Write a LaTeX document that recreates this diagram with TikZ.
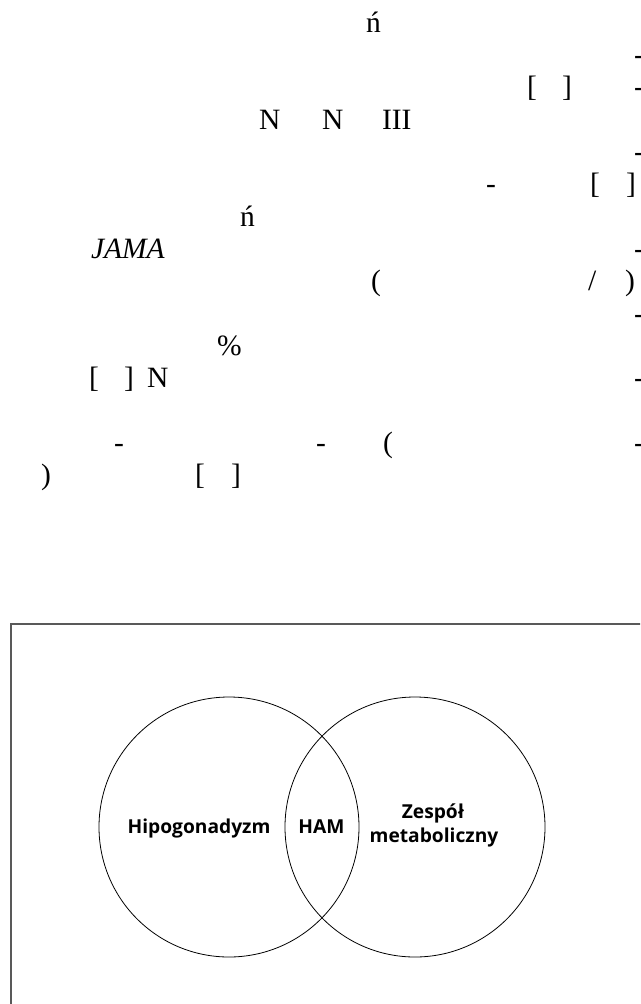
\documentclass[tikz,border=0pt]{standalone}
\usepackage{fontspec}
\setmainfont{Liberation Serif}
\newfontfamily\labfont{Open Sans}
\begin{document}
\begin{tikzpicture}[x=1pt,y=-1pt,
  glyph/.style={anchor=base west,inner sep=0pt,outer sep=0pt,font=\fontsize{29.5}{32}\selectfont},
  lab/.style={anchor=base,inner sep=0pt,outer sep=0pt,font=\labfont\bfseries\fontsize{19.2}{23}\selectfont},
  venn/.style={draw=black,line width=0.8pt},
  frame/.style={draw=black!65,line width=1.3pt}]
\useasboundingbox (0,0) rectangle (640,1004);
\clip (0,0) rectangle (640,1004);
% scattered text glyphs
\node[glyph] (a1) at (366,32) {ń};
\node[glyph] (b1) at (634,64) {-};
\node[glyph] (c1) at (527,96) {[};
\node[glyph] (c2) at (562,96) {]};
\node[glyph] (c3) at (634,96) {-};
\node[glyph] (d1) at (259,129) {N};
\node[glyph] (d2) at (322,129) {N};
\node[glyph] (d3) at (382,129) {III};
\node[glyph] (e1) at (634,161) {-};
\node[glyph] (f1) at (486,193) {-};
\node[glyph] (f2) at (590,193) {[};
\node[glyph] (f3) at (626,193) {]};
\node[glyph] (g1) at (240,226) {ń};
\node[glyph] (h1) at (91,258) {\itshape JAMA};
\node[glyph] (h2) at (634,258) {-};
\node[glyph] (i1) at (371,290) {(};
\node[glyph] (i2) at (588,290) {/};
\node[glyph] (i3) at (625,290) {)};
\node[glyph] (j1) at (634,323) {-};
\node[glyph] (k1) at (217,355) {\%};
\node[glyph] (l1) at (89,387) {[};
\node[glyph] (l2) at (124,387) {]};
\node[glyph] (l3) at (147,387) {N};
\node[glyph] (l4) at (634,387) {-};
\node[glyph] (m1) at (114,452) {-};
\node[glyph] (m2) at (316,452) {-};
\node[glyph] (m3) at (383,452) {(};
\node[glyph] (m4) at (634,452) {-};
\node[glyph] (n1) at (41,484) {)};
\node[glyph] (n2) at (195,484) {[};
\node[glyph] (n3) at (231,484) {]};
% figure frame
\draw[frame] (11,624) rectangle (700,1060);
% Venn diagram
\draw[venn] (229,827) circle (130);
\draw[venn] (415,827) circle (130);
\node[lab] (hipo) at (199,833) {Hipogonadyzm};
\node[lab] (ham) at (321.5,833) {HAM};
\node[lab] (zesp) at (433,818) {Zespół};
\node[lab] (meta) at (434,842) {metaboliczny};
\end{tikzpicture}
\end{document}
